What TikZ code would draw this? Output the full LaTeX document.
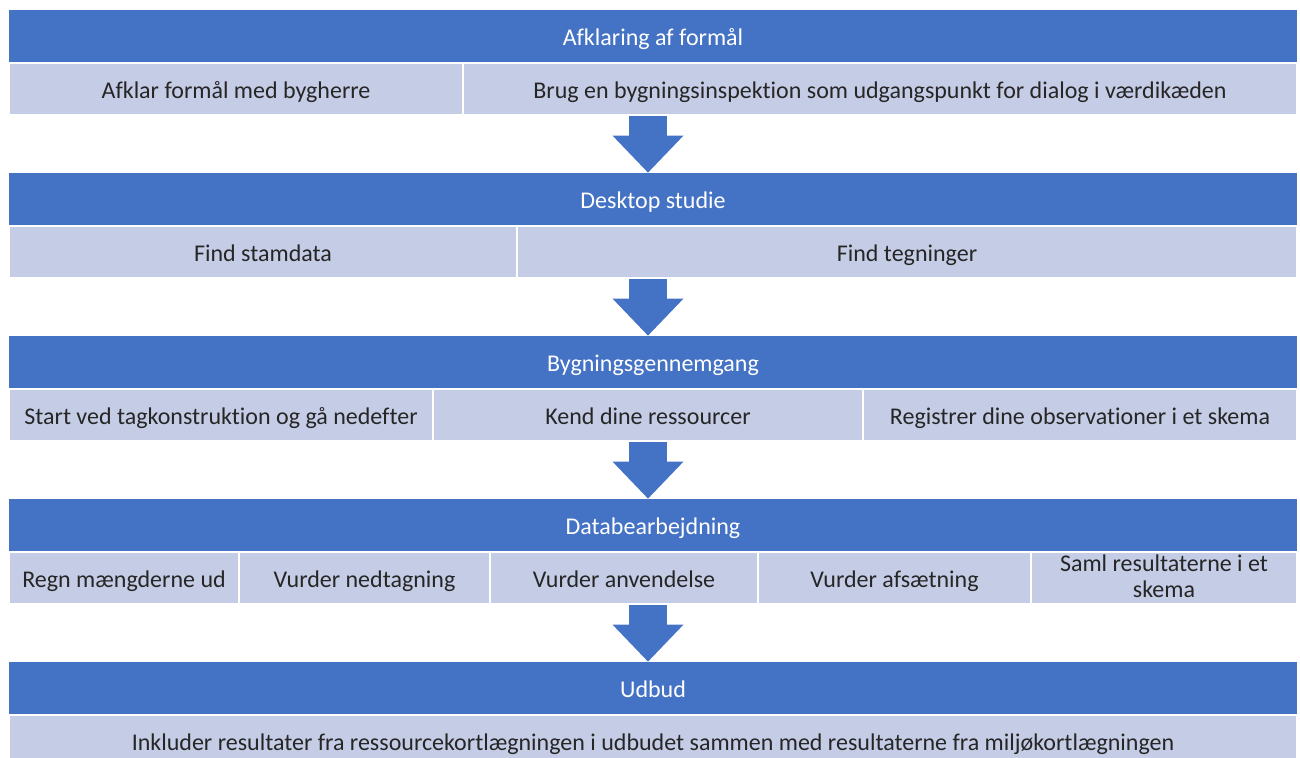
\documentclass[tikz,border=0pt]{standalone}
\usepackage{fontspec}
\setmainfont{Carlito}[Ligatures=NoCommon]
\usetikzlibrary{arrows.meta}
\definecolor{headblue}{RGB}{68,114,196}
\definecolor{cellblue}{RGB}{197,205,230}
\newcommand\cellstrut{\rule[-1.9pt]{0pt}{13pt}}

\begin{document}
\begin{tikzpicture}[x=0.5pt,y=-0.5pt,
        head/.style={fill=headblue,text=white,minimum width=644pt,minimum height=26.5pt,inner sep=0pt,execute at begin node=\cellstrut},
        cell/.style={fill=cellblue,draw=white,line width=0.8pt,text=black!85,inner sep=0pt,minimum height=26pt,align=center,
            execute at begin node=\cellstrut,execute at end node=\cellstrut},
        flow/.style={draw=headblue,line width=19pt,-{Triangle[width=35.5pt,length=18.5pt,line width=0pt]}}]
        \fontsize{12}{13}\selectfont
        \useasboundingbox (0,0) rectangle (1300,758);
        \coordinate (axis) at (648,0);
        \foreach \i/\t in {1/Afklaring af formål,2/Desktop studie,3/Bygningsgennemgang,4/Databearbejdning,5/Udbud}{
            \node[head] (h\i) at (653,163*\i-126.5) {\t};
        }
        \foreach \i/\j/\l/\r/\t in {1/1/9/463/Afklar formål med bygherre,
                1/2/463/1297/Brug en bygningsinspektion som udgangspunkt for dialog i værdikæden,
                2/1/9/517/Find stamdata,
                2/2/517/1297/Find tegninger,
                3/1/9/433/Start ved tagkonstruktion og gå nedefter,
                3/2/433/863/Kend dine ressourcer,
                3/3/863/1297/Registrer dine observationer i et skema,
                4/1/9/239/Regn mængderne ud,
                4/2/239/490/Vurder nedtagning,
                4/3/490/758/Vurder anvendelse,
                4/4/758/1031/Vurder afsætning,
                4/5/1031/1297/{Saml resultaterne i et\\skema},
                5/1/9/1297/Inkluder resultater fra ressourcekortlægningen i udbudet sammen med resultaterne fra miljøkortlægningen}{
            \pgfmathsetmacro\w{(\r-\l)/2}
            \node[cell,minimum width=\w pt] (c\i\j) at ({(\l+\r)/2},163*\i-74) {\t};
        }
        \foreach \i [evaluate=\i as \k using int(\i+1)] in {1,...,4}{
            \draw[flow] (axis |- c\i1.south) -- (axis |- h\k.north);
        }
\end{tikzpicture}
\end{document}
